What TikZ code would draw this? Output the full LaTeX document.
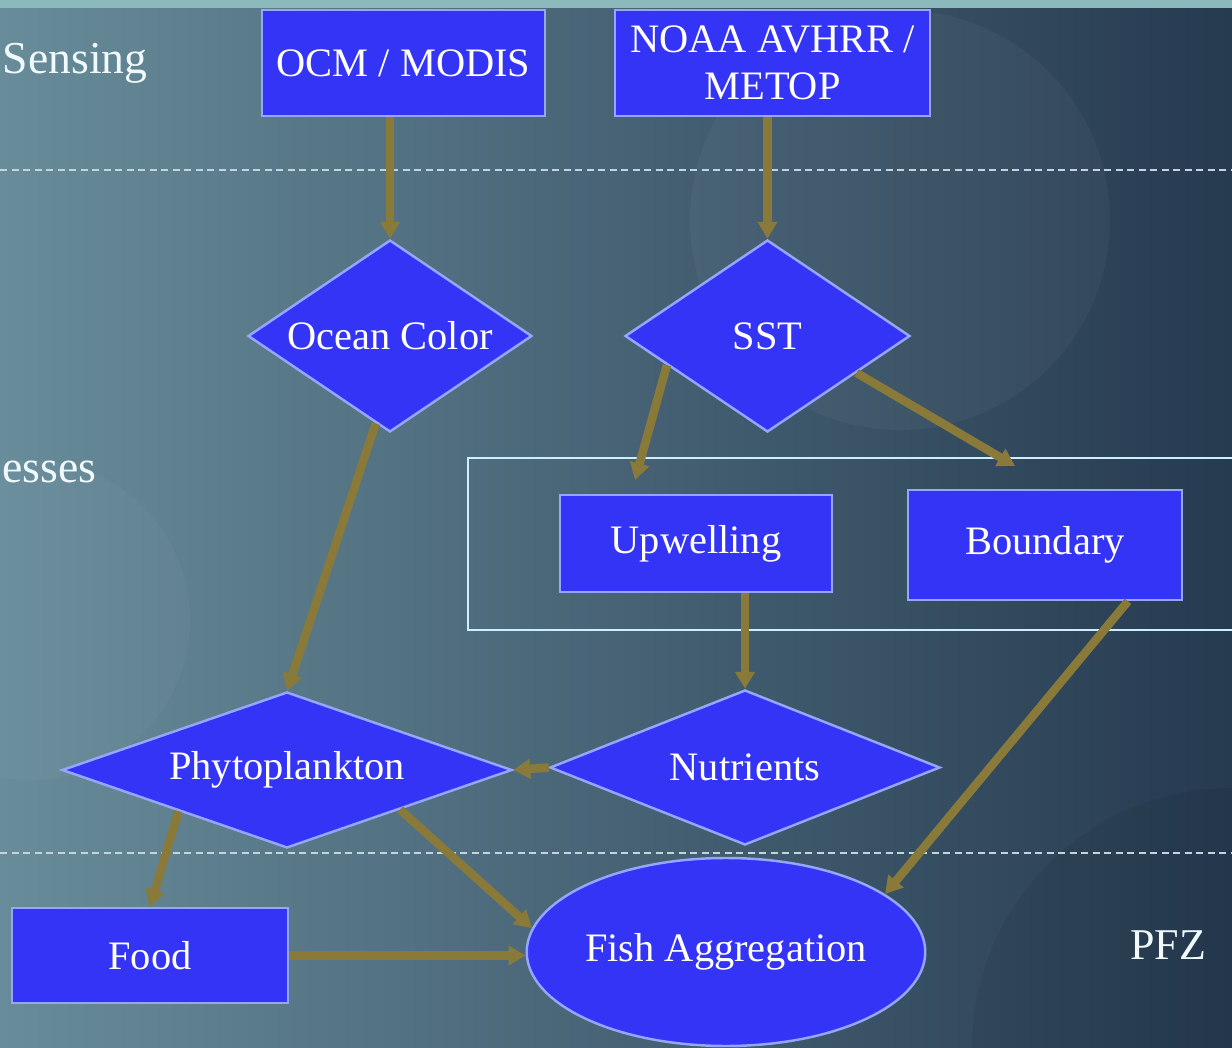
\documentclass[tikz,border=0pt]{standalone}
\usepackage{fontspec}
\setmainfont{Liberation Serif}
\usetikzlibrary{shapes.geometric,arrows.meta,calc}

\definecolor{bgleft}{RGB}{104,140,154}
\definecolor{bgmid}{RGB}{108,150,166}
\definecolor{bgright}{RGB}{38,58,80}
\definecolor{topband}{RGB}{140,186,188}
\definecolor{nodefill}{RGB}{52,52,246}
\definecolor{nodeline}{RGB}{150,166,255}
\definecolor{flowcol}{RGB}{138,122,58}
\definecolor{sepcol}{RGB}{196,212,220}

\tikzset{
  boxnode/.style={rectangle, draw=nodeline, fill=nodefill, line width=0.7pt,
    text=white, align=center, inner sep=0pt, font=\fontsize{11.5}{13.5}\selectfont},
  decnode/.style={diamond, draw=nodeline, fill=nodefill, line width=0.7pt,
    text=white, inner sep=0pt, font=\fontsize{11.5}{13.5}\selectfont},
  fishnode/.style={ellipse, draw=nodeline, fill=nodefill, line width=0.7pt,
    text=white, inner sep=0pt, font=\fontsize{11.5}{13.5}\selectfont},
  flow/.style={draw=flowcol, line width=0.085cm,
    -{Triangle[width=0.19cm,length=0.17cm]}},
  sepline/.style={draw=sepcol, line width=0.025cm, dash pattern=on 0.07cm off 0.045cm},
  sidelabel/.style={text=white!94!cyan, font=\fontsize{13}{15}\selectfont},
  groupframe/.style={draw=white!80!cyan, line width=0.6pt}
}

\begin{document}
\begin{tikzpicture}
\useasboundingbox (0,0) rectangle (12.32,-10.48);
\shade [left color=bgleft, middle color=bgmid, right color=bgright] (0,0) rectangle (12.32,-10.48);
\fill [white, opacity=0.035] (9.0,-2.2) circle (2.1);
\fill [white, opacity=0.03] (0.3,-6.2) circle (1.6);
\fill [black, opacity=0.06] (12.32,-10.48) circle (2.6);
\fill [topband] (0,0) rectangle (12.32,-0.08);

\node [sidelabel, anchor=west, inner sep=0pt] (sensing) at (0.02,-0.63) {Sensing};
\node [sidelabel, anchor=west, inner sep=0pt] (esses) at (0.02,-4.72) {esses};
\node [sidelabel, font=\fontsize{12.5}{14}\selectfont] (pfz) at (11.68,-9.45) {PFZ};

\draw [sepline] (0,-1.70) -- (12.32,-1.70);
\draw [sepline] (0,-8.53) -- (12.32,-8.53);
\draw [groupframe] (4.68,-4.58) rectangle (12.45,-6.30);

\node [boxnode, minimum width=2.83cm, minimum height=1.06cm] (ocm) at (4.035,-0.63) {OCM / MODIS};
\node [boxnode, minimum width=3.15cm, minimum height=1.06cm] (noaa) at (7.725,-0.63) {NOAA AVHRR /\\METOP};
\node [decnode, aspect=1.48, minimum width=2.84cm, minimum height=1.92cm] (ocean) at (3.90,-3.36) {Ocean Color};
\node [decnode, aspect=1.48, minimum width=2.85cm, minimum height=1.92cm] (sst) at (7.675,-3.36) {SST};
\node [boxnode, minimum width=2.72cm, minimum height=0.97cm] (upw) at (6.96,-5.435) {Upwelling};
\node [boxnode, minimum width=2.74cm, minimum height=1.10cm] (bnd) at (10.45,-5.45) {Boundary};
\node [decnode, aspect=2.88, minimum width=4.50cm, minimum height=1.56cm] (phyto) at (2.87,-7.70) {Phytoplankton};
\node [decnode, aspect=2.52, minimum width=3.90cm, minimum height=1.55cm] (nutr) at (7.45,-7.675) {Nutrients};
\node [boxnode, minimum width=2.76cm, minimum height=0.95cm] (food) at (1.50,-9.555) {Food};
\node [fishnode, minimum width=3.98cm, minimum height=1.88cm] (fish) at (7.26,-9.52) {Fish Aggregation};

\coordinate (upwin) at (6.35,-4.80);
\coordinate (bndin) at (10.15,-4.66);

\draw [flow] (ocm.south -| ocean.north) -- (ocean.north);
\draw [flow] (noaa.south -| sst.north) -- (sst.north);
\draw [flow] ($(sst.west)!0.3!(sst.south)$) -- (upwin);
\draw [flow] ($(sst.east)!0.38!(sst.south)$) -- (bndin);
\draw [flow] ($(ocean.west)!0.9!(ocean.south)$) -- (phyto.north);
\draw [flow] (upw.south -| nutr.north) -- (nutr.north);
\draw [flow] (nutr.west) -- (phyto.east);
\draw [flow] ($(phyto.west)!0.52!(phyto.south)$) -- (food.north);
\draw [flow] ($(phyto.east)!0.5!(phyto.south)$) -- (fish.173);
\draw [flow] (food.east) -- (food.east -| fish.west);
\draw [flow] ($(bnd.south)!0.6!(bnd.south east)$) -- (fish.20);
\end{tikzpicture}
\end{document}
